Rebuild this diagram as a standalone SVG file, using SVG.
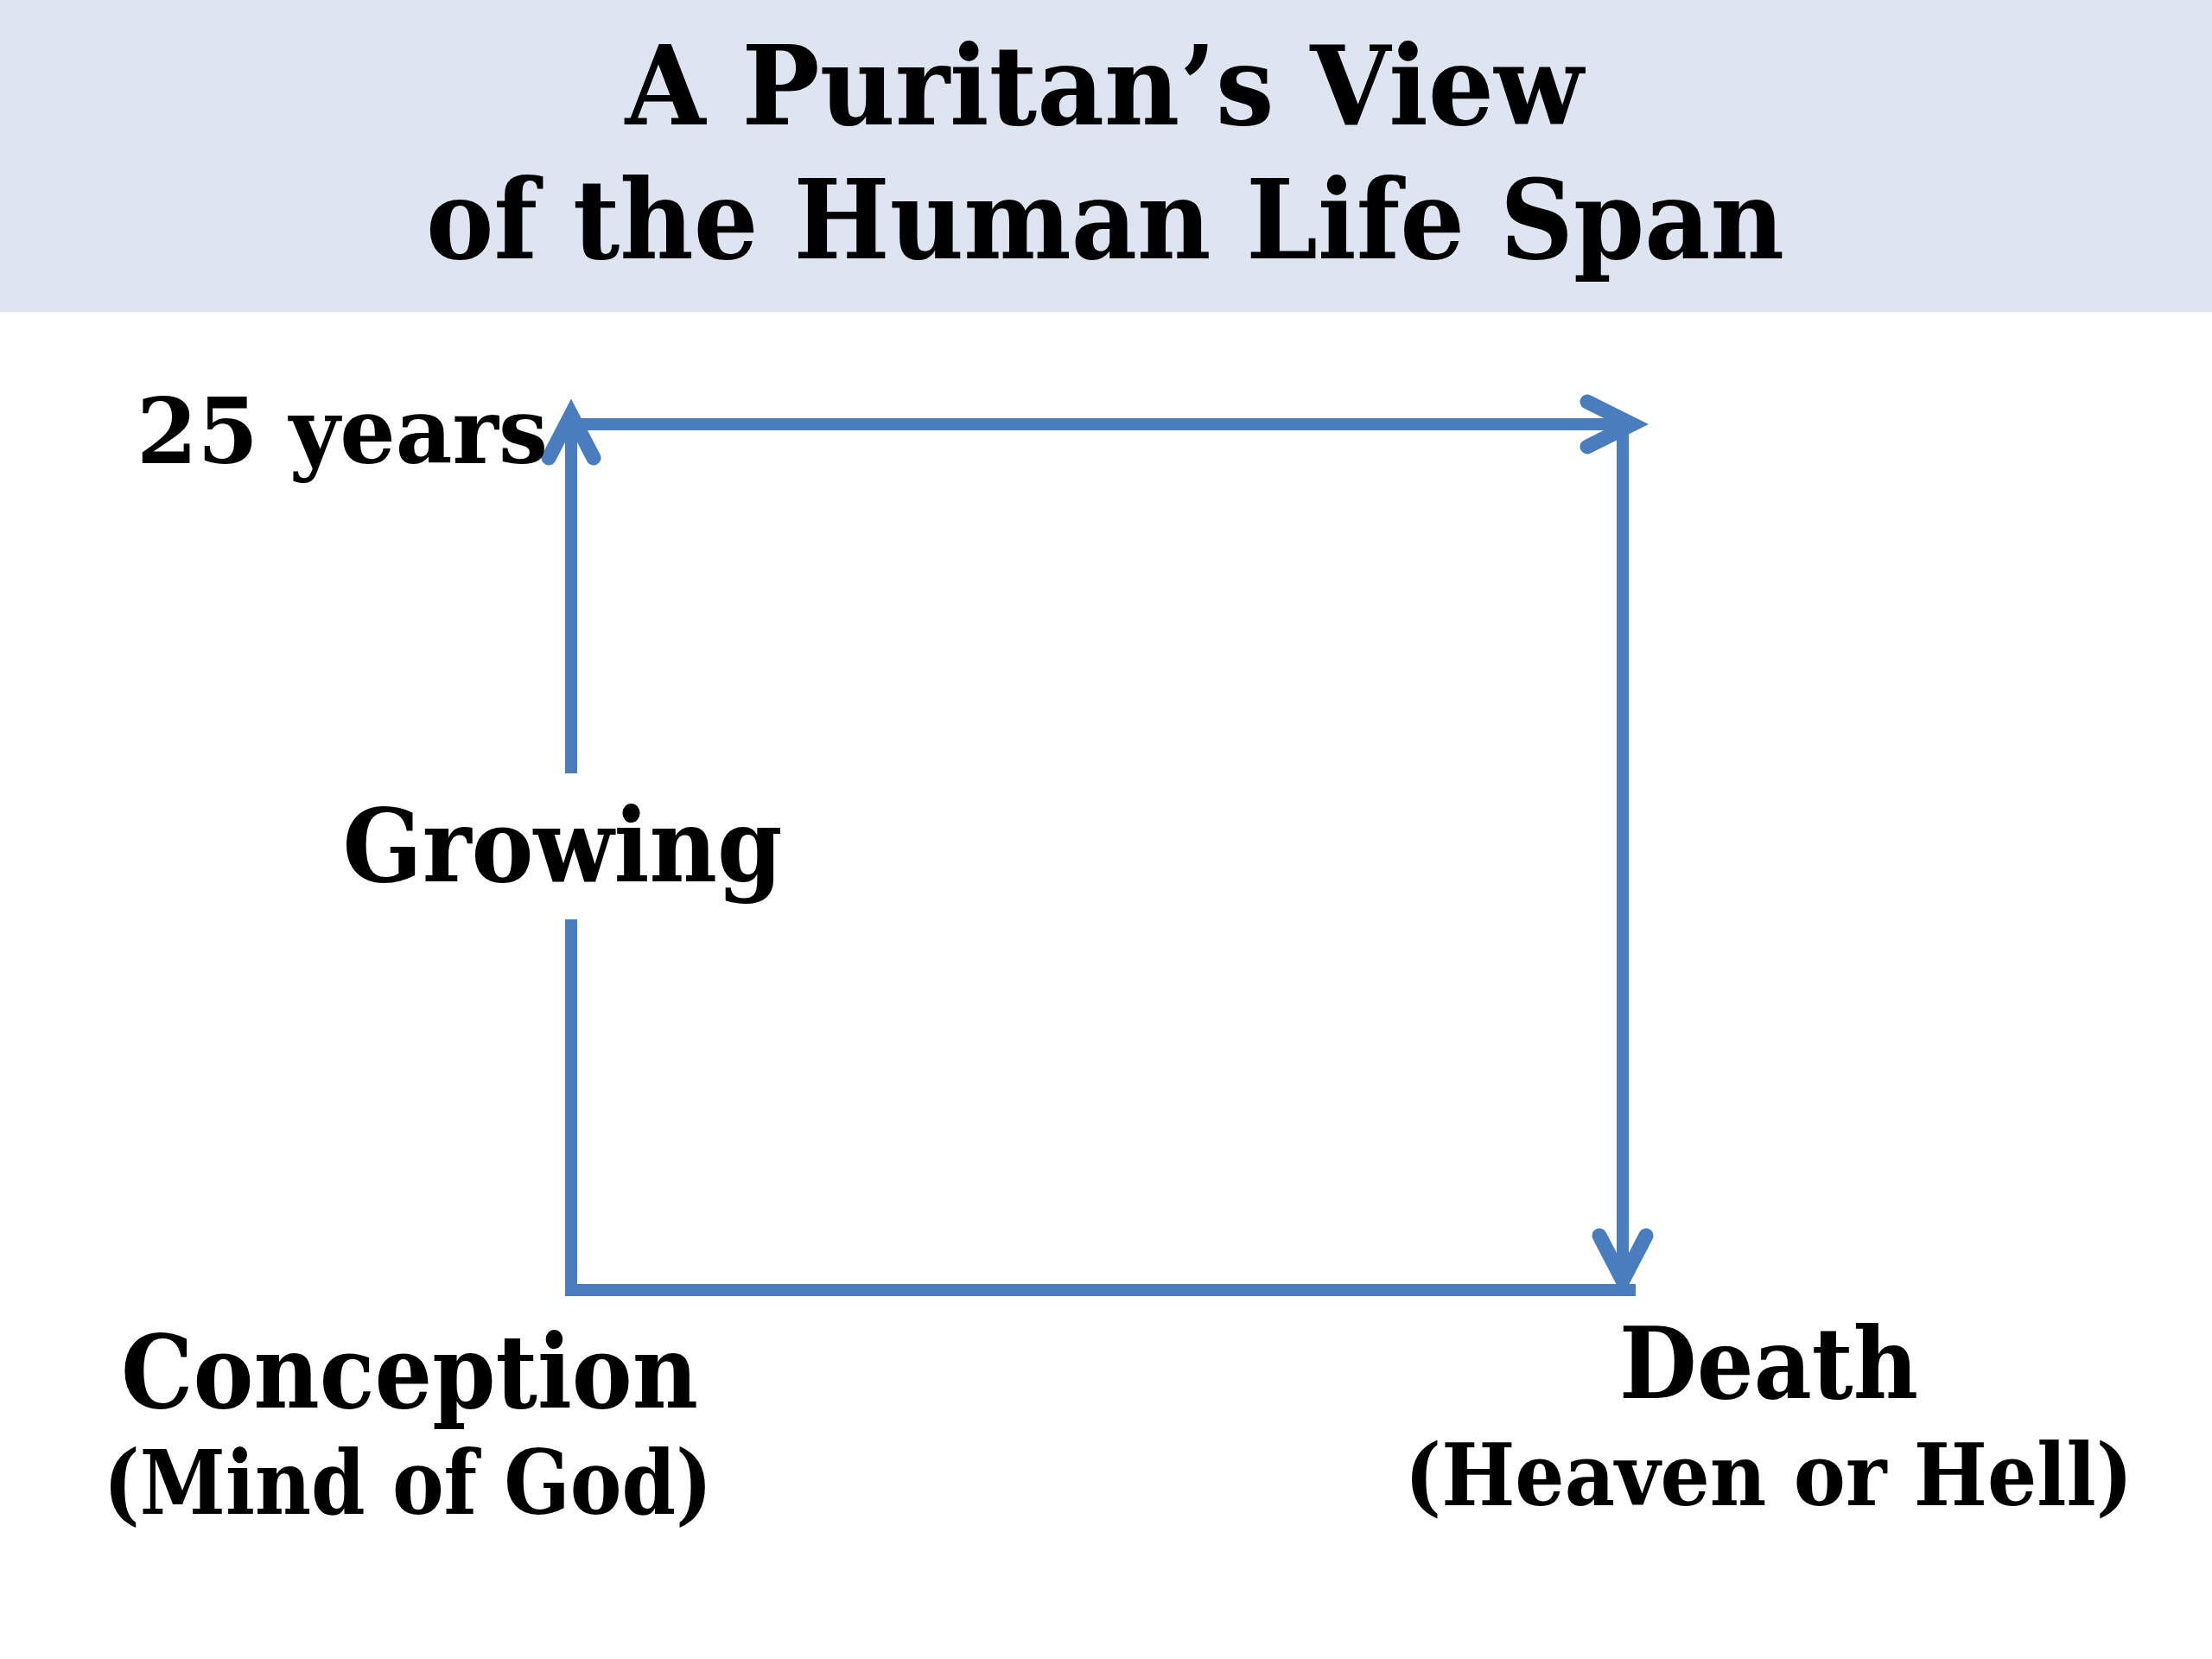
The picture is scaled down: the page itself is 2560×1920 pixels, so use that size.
<svg xmlns="http://www.w3.org/2000/svg" width="2560" height="1920" viewBox="0 0 2560 1920">
<style>
.t{font-family:"DejaVu Serif","Liberation Serif",serif;font-weight:bold;fill:#000;text-anchor:middle}
.c{stroke:#4a7dbd;stroke-width:14;fill:none}
.h{stroke:#4a7dbd;stroke-width:17;fill:none;stroke-linecap:round;stroke-linejoin:miter}
</style>
<rect x="0" y="0" width="2560" height="1920" fill="#ffffff"/>
<g id="header">
<rect x="0" y="0" width="2560" height="361" fill="#dde6f0"/>
<text class="t" x="1278" y="144" font-size="128" textLength="1109" lengthAdjust="spacingAndGlyphs">A Puritan’s View</text>
<text class="t" x="1279" y="299" font-size="128" textLength="1572" lengthAdjust="spacingAndGlyphs">of the Human Life Span</text>
</g>
<g id="connectors">
<line class="c" x1="661" y1="1498" x2="661" y2="1064"/>
<line class="c" x1="661" y1="895" x2="661" y2="482"/>
<path class="h" d="M635,530 L661,480 L687,530"/>
<line class="c" x1="654" y1="491" x2="1885" y2="491"/>
<path class="h" d="M1837,465 L1889,491 L1837,517"/>
<line class="c" x1="1878" y1="497" x2="1878" y2="1480"/>
<path class="h" d="M1851,1430 L1878,1482 L1905,1430"/>
<line class="c" x1="654" y1="1493" x2="1893" y2="1493"/>
</g>
<g id="label-25years">
<text class="t" x="396" y="536" font-size="104" textLength="476" lengthAdjust="spacingAndGlyphs">25 years</text>
</g>
<g id="label-growing">
<text class="t" x="651" y="1020" font-size="118" textLength="509" lengthAdjust="spacingAndGlyphs">Growing</text>
</g>
<g id="node-conception">
<text class="t" x="474" y="1629" font-size="118" textLength="668" lengthAdjust="spacingAndGlyphs">Conception</text>
<text class="t" x="472" y="1752" font-size="102" textLength="705" lengthAdjust="spacingAndGlyphs">(Mind of God)</text>
</g>
<g id="node-death">
<text class="t" x="2047" y="1618" font-size="115" textLength="346" lengthAdjust="spacingAndGlyphs">Death</text>
<text class="t" x="2047" y="1742" font-size="100" textLength="843" lengthAdjust="spacingAndGlyphs">(Heaven or Hell)</text>
</g>
</svg>
